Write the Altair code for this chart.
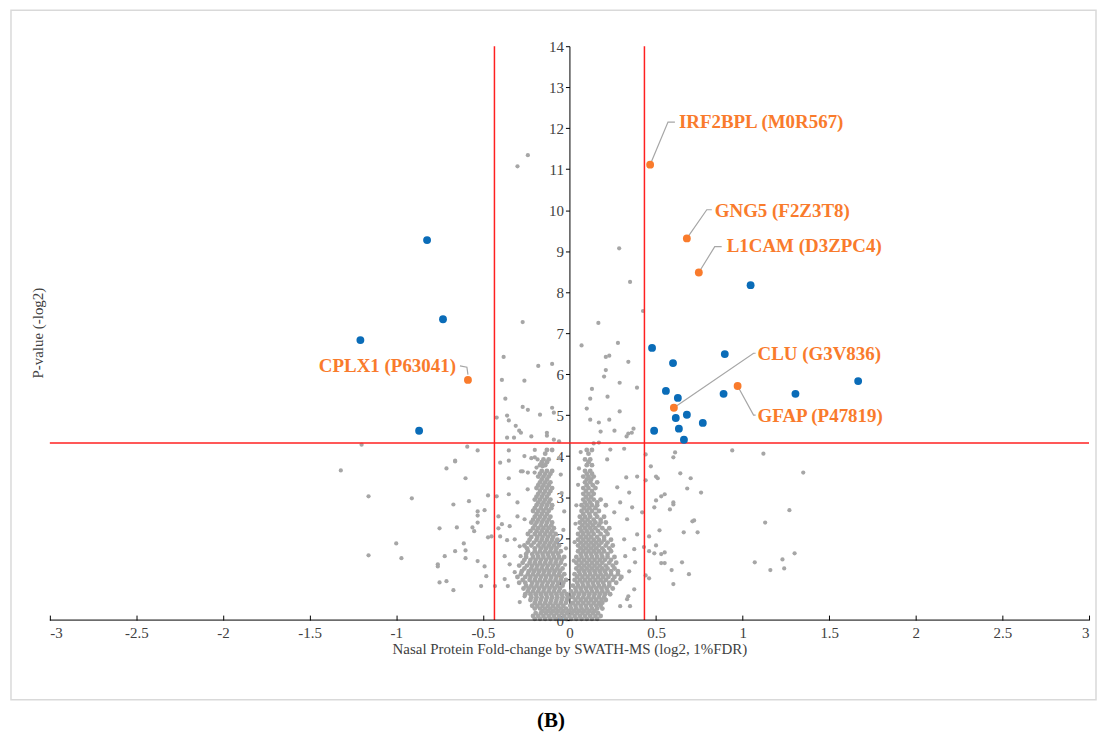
import altair as alt
import pandas as pd

SERIF = "Liberation Serif"

# ---------------- data ----------------
# scattered (non-significant) proteins: (log2 fold-change, -log2 p)
gray_scatter = [
    (-0.30, 11.07), (-0.24, 11.34), (-0.27, 7.27), (0.287, 9.07), (0.35, 8.25), (0.425, 7.54), (0.167, 7.25),
    (-0.38, 6.42), (-0.39, 5.86), (-0.26, 5.84), (-0.18, 6.2), (-0.10, 6.25), (-0.37, 5.4), (-0.27, 5.2),
    (-0.24, 5.13), (-0.42, 4.94), (-0.36, 4.99), (-0.35, 4.87), (-0.17, 5.01), (-0.10, 5.18), (-0.09, 5.06),
    (-0.31, 4.74), (-0.29, 4.62), (-0.28, 4.57), (-0.13, 4.57), (-0.36, 4.45), (-0.32, 4.45), (-0.22, 4.48),
    (-0.13, 4.5), (-0.09, 4.4), (-0.06, 4.36),
    (0.07, 6.7), (0.28, 6.76), (0.21, 6.42), (0.23, 6.45), (0.34, 6.3), (0.21, 6.1), (0.20, 5.94), (0.29, 5.79),
    (0.39, 5.67), (0.13, 5.64), (0.22, 5.45), (0.12, 5.4), (0.10, 5.16), (0.29, 5.09), (0.12, 4.89), (0.23, 4.89),
    (0.17, 4.82), (0.18, 4.6), (0.26, 4.62), (0.37, 4.67), (0.34, 4.55), (0.33, 4.48), (0.36, 4.57), (0.14, 4.31),
    (0.17, 4.33),
    # below threshold, right side
    (0.44, 4.04), (0.61, 4.09), (0.60, 3.97), (0.94, 4.14), (1.12, 4.06), (1.35, 3.6), (0.47, 3.75), (0.64, 3.58),
    (0.70, 3.46), (0.68, 3.21), (0.76, 3.11), (0.44, 3.41), (0.50, 3.5), (0.51, 3.46), (0.50, 2.92), (0.55, 3.07),
    (0.53, 3.02), (0.60, 2.87), (0.60, 2.82), (0.58, 2.7), (0.49, 2.75), (0.42, 2.63), (1.27, 2.68), (1.13, 2.38),
    (0.71, 2.41), (0.72, 2.43), (0.74, 2.14), (0.66, 2.14), (0.52, 2.19), (0.46, 2.04), (0.50, 1.82), (0.43, 1.78),
    (0.55, 1.65), (0.53, 1.61), (0.46, 1.68), (0.49, 1.63), (1.30, 1.63), (1.23, 1.48), (1.07, 1.41), (1.16, 1.22),
    (1.24, 1.26), (0.65, 1.41), (0.69, 1.12), (0.59, 1.22), (0.60, 0.88), (0.53, 1.39), (0.55, 1.39), (0.46, 1.02),
    (0.44, 1.09), (0.35, 0.34), (0.34, 0.58),
    (0.218, 3.92), (0.236, 4.16), (0.316, 4.18), (0.391, 3.5), (0.328, 3.48), (0.276, 3.24), (0.345, 3.11),
    (0.293, 2.87), (0.362, 2.75), (0.259, 2.63), (0.333, 2.46), (0.391, 2.09), (0.316, 1.97), (0.374, 1.73),
    (0.322, 1.56), (0.379, 1.41), (0.345, 1.19), (0.293, 1.0), (0.374, 0.75), (0.333, 0.51), (0.293, 0.34),
    # below threshold, left side
    (-1.32, 3.65), (-1.16, 3.02), (-0.91, 2.97), (-1.16, 1.58), (-1.0, 1.87), (-0.97, 1.51), (-1.2, 4.28),
    (-0.71, 3.7), (-0.66, 3.89), (-0.66, 3.87), (-0.60, 3.46), (-0.58, 2.9), (-0.67, 2.82), (-0.75, 2.24),
    (-0.65, 2.26), (-0.61, 1.87), (-0.66, 1.68), (-0.60, 1.7), (-0.72, 1.56), (-0.60, 1.51), (-0.76, 1.36),
    (-0.76, 1.31), (-0.75, 0.92), (-0.71, 0.95), (-0.67, 0.73), (-0.59, 4.23), (-0.53, 4.14), (-0.53, 1.44),
    (-0.49, 1.31), (-0.48, 1.07), (-0.51, 0.83), (-0.47, 3.04), (-0.49, 2.68), (-0.53, 2.65), (-0.53, 2.55),
    (-0.53, 2.38), (-0.56, 2.26), (-0.55, 2.17), (-0.47, 2.02), (-0.45, 2.04), (-0.42, 3.02), (-0.43, 0.83),
    (-0.40, 3.84), (-0.35, 4.14), (-0.35, 3.89), (-0.35, 3.46), (-0.35, 3.07), (-0.41, 2.53), (-0.39, 2.34),
    (-0.41, 2.24), (-0.40, 2.04), (-0.36, 1.95), (-0.30, 2.87), (-0.30, 2.53), (-0.28, 3.63), (-0.24, 3.6),
    (-0.20, 3.97), (-0.19, 3.72), (-0.15, 3.77),
    (-0.345, 2.29), (-0.287, 1.8), (-0.374, 1.56), (-0.316, 1.17), (-0.259, 0.58), (-0.287, 0.44), (-0.356, 0.83),
    (-0.374, 1.0), (-0.241, 3.19), (-0.27, 3.63), (-0.201, 3.6), (-0.184, 3.92), (-0.155, 3.75), (-0.259, 2.46),
    (-0.316, 1.97), (-0.282, 1.56), (-0.345, 1.36), (-0.26, 4.0), (-0.22, 3.95), (-0.20, 4.15),
    # sparse points inside the V, close to the axis
    (-0.025, 1.35), (-0.02, 1.75), (-0.035, 2.2), (-0.03, 2.65), (-0.045, 3.1), (-0.05, 3.55), (-0.06, 3.95),
    (0.025, 1.45), (0.03, 1.9), (0.035, 2.35), (0.04, 2.8), (0.05, 3.3), (0.055, 3.7), (0.065, 4.1),
]

# dense central cloud, read row by row: (-log2 p, [log2 fold-changes])
cloud_rows = [
    (0.03, [-0.20, -0.17, -0.14, -0.11, -0.08, -0.05, -0.02, 0.01, 0.04, 0.07, 0.10, 0.13, 0.16]),
    (0.10, [-0.21, -0.18, -0.15, -0.12, -0.09, -0.06, -0.03, 0.0, 0.03, 0.06, 0.09, 0.12, 0.15, 0.18]),
    (0.17, [-0.195, -0.165, -0.135, -0.105, -0.075, -0.045, -0.015, 0.015, 0.045, 0.075, 0.105, 0.135, 0.165]),
    (0.22, [-0.155, -0.125, -0.095, -0.065, -0.035, -0.005, 0.025, 0.055, 0.085, 0.115, 0.145]),
    (0.28, [-0.20, -0.17, -0.14, -0.11, -0.08, -0.05, -0.02, 0.01, 0.04, 0.07, 0.10, 0.13, 0.16, 0.19]),
    (0.35, [-0.215, -0.185, -0.155, -0.125, -0.095, -0.065, -0.035, 0.005, 0.035, 0.065, 0.095, 0.125, 0.155, 0.18]),
    (0.42, [-0.20, -0.17, -0.14, -0.11, -0.08, -0.05, -0.02, 0.02, 0.05, 0.08, 0.11, 0.14, 0.17, 0.19]),
    (0.49, [-0.225, -0.195, -0.165, -0.135, -0.105, -0.075, -0.045, -0.015, 0.035, 0.065, 0.095, 0.125, 0.155, 0.185, 0.21]),
    (0.56, [-0.22, -0.19, -0.16, -0.13, -0.10, -0.07, -0.04, -0.01, 0.02, 0.05, 0.08, 0.11, 0.14, 0.17, 0.20]),
    (0.63, [-0.255, -0.225, -0.195, -0.165, -0.135, -0.105, -0.075, -0.045, -0.015, 0.025, 0.055, 0.085, 0.115, 0.145, 0.175, 0.205, 0.235]),
    (0.70, [-0.24, -0.21, -0.18, -0.15, -0.12, -0.09, -0.06, -0.03, 0.01, 0.04, 0.07, 0.10, 0.13, 0.16, 0.19, 0.22]),
    (0.77, [-0.265, -0.235, -0.205, -0.175, -0.145, -0.115, -0.085, -0.055, 0.035, 0.065, 0.095, 0.125, 0.155, 0.185, 0.215, 0.25]),
    (0.84, [-0.25, -0.22, -0.19, -0.16, -0.13, -0.10, -0.07, -0.04, 0.02, 0.05, 0.08, 0.11, 0.14, 0.17, 0.20, 0.23]),
    (0.91, [-0.29, -0.255, -0.215, -0.185, -0.155, -0.125, -0.095, -0.065, -0.035, 0.045, 0.075, 0.105, 0.135, 0.165, 0.195, 0.23, 0.27]),
    (0.98, [-0.27, -0.23, -0.20, -0.17, -0.14, -0.11, -0.08, -0.05, -0.02, 0.03, 0.06, 0.09, 0.12, 0.15, 0.18, 0.21, 0.25]),
    (1.05, [-0.30, -0.255, -0.225, -0.195, -0.165, -0.135, -0.105, -0.075, -0.045, 0.045, 0.075, 0.105, 0.135, 0.165, 0.195, 0.225, 0.26, 0.30]),
    (1.12, [-0.28, -0.24, -0.21, -0.18, -0.15, -0.12, -0.09, -0.06, -0.03, 0.03, 0.06, 0.09, 0.12, 0.15, 0.18, 0.21, 0.24, 0.28]),
    (1.19, [-0.275, -0.235, -0.205, -0.175, -0.145, -0.115, -0.085, -0.055, 0.055, 0.085, 0.115, 0.145, 0.175, 0.205, 0.24, 0.28]),
    (1.26, [-0.26, -0.22, -0.19, -0.16, -0.13, -0.10, -0.07, -0.04, 0.04, 0.07, 0.10, 0.13, 0.16, 0.19, 0.22, 0.26]),
    (1.33, [-0.29, -0.245, -0.215, -0.185, -0.155, -0.125, -0.095, -0.065, 0.055, 0.085, 0.115, 0.145, 0.175, 0.21, 0.25]),
    (1.40, [-0.27, -0.23, -0.20, -0.17, -0.14, -0.11, -0.08, -0.05, 0.04, 0.07, 0.10, 0.13, 0.16, 0.19, 0.23, 0.27]),
    (1.47, [-0.26, -0.225, -0.195, -0.165, -0.135, -0.105, -0.075, -0.045, 0.055, 0.085, 0.115, 0.145, 0.175, 0.205, 0.24]),
    (1.54, [-0.25, -0.21, -0.18, -0.15, -0.12, -0.09, -0.06, -0.03, 0.04, 0.07, 0.10, 0.13, 0.16, 0.19, 0.22, 0.26]),
    (1.61, [-0.25, -0.215, -0.185, -0.155, -0.125, -0.095, -0.065, 0.065, 0.095, 0.125, 0.155, 0.185, 0.22]),
    (1.68, [-0.24, -0.20, -0.17, -0.14, -0.11, -0.08, -0.05, 0.05, 0.08, 0.11, 0.14, 0.17, 0.20, 0.24]),
    (1.75, [-0.245, -0.20, -0.165, -0.135, -0.105, -0.075, 0.065, 0.095, 0.125, 0.155, 0.19, 0.23]),
    (1.82, [-0.26, -0.22, -0.18, -0.15, -0.12, -0.09, -0.06, 0.05, 0.08, 0.11, 0.14, 0.17, 0.21, 0.25]),
    (1.89, [-0.24, -0.205, -0.17, -0.14, -0.11, -0.08, 0.065, 0.095, 0.125, 0.155, 0.185, 0.22]),
    (1.96, [-0.23, -0.19, -0.16, -0.13, -0.10, -0.07, 0.05, 0.08, 0.11, 0.14, 0.17, 0.20, 0.24]),
    (2.03, [-0.22, -0.185, -0.155, -0.125, -0.095, 0.065, 0.095, 0.125, 0.16, 0.20]),
    (2.10, [-0.24, -0.20, -0.17, -0.14, -0.11, -0.08, 0.05, 0.08, 0.11, 0.14, 0.18, 0.22]),
    (2.17, [-0.225, -0.19, -0.16, -0.13, -0.10, 0.07, 0.10, 0.13, 0.165, 0.21]),
    (2.24, [-0.21, -0.18, -0.15, -0.12, -0.09, 0.06, 0.09, 0.12, 0.15, 0.19, 0.23]),
    (2.31, [-0.20, -0.165, -0.135, -0.105, 0.075, 0.105, 0.135, 0.17]),
    (2.38, [-0.22, -0.19, -0.16, -0.13, -0.10, 0.06, 0.09, 0.12, 0.15, 0.18, 0.21]),
    (2.45, [-0.21, -0.18, -0.15, -0.12, 0.075, 0.105, 0.14, 0.18]),
    (2.52, [-0.20, -0.17, -0.14, -0.11, 0.06, 0.09, 0.12, 0.16, 0.20]),
    (2.59, [-0.19, -0.16, -0.13, 0.08, 0.115, 0.15]),
    (2.66, [-0.21, -0.18, -0.15, -0.12, 0.07, 0.10, 0.13, 0.17]),
    (2.73, [-0.20, -0.165, -0.135, -0.105, 0.085, 0.115, 0.15]),
    (2.80, [-0.19, -0.16, -0.13, -0.10, 0.07, 0.10, 0.13, 0.16, 0.21]),
    (2.87, [-0.18, -0.15, -0.12, 0.09, 0.12, 0.16]),
    (2.94, [-0.20, -0.17, -0.14, -0.11, 0.08, 0.11, 0.14, 0.18]),
    (3.01, [-0.19, -0.16, -0.13, 0.095, 0.125]),
    (3.08, [-0.18, -0.15, -0.12, 0.08, 0.11, 0.14]),
    (3.15, [-0.17, -0.14, -0.11, 0.095, 0.13]),
    (3.22, [-0.19, -0.16, -0.13, -0.10, 0.08, 0.11, 0.15]),
    (3.29, [-0.18, -0.15, -0.12, 0.10, 0.135]),
    (3.36, [-0.17, -0.14, -0.11, 0.09, 0.12, 0.16]),
    (3.43, [-0.16, -0.13, 0.10, 0.125]),
    (3.50, [-0.18, -0.15, -0.12, 0.08, 0.11, 0.14]),
    (3.57, [-0.17, -0.14, -0.11, 0.10, 0.13]),
    (3.64, [-0.16, -0.13, -0.10, 0.09, 0.12]),
    (3.78, [-0.17, -0.14, 0.10, 0.13]),
    (3.85, [-0.16, -0.13, 0.11]),
    (3.92, [-0.15, -0.12, 0.09, 0.12]),
    (4.06, [-0.14, 0.11]),
    (4.15, [-0.13, -0.10, 0.10, 0.13]),
]

# significant proteins (blue)
blue_x = [-0.822, -0.730, -1.207, -0.868, 1.046, 0.477, 0.897, 0.598, 1.667, 0.557,
          0.626, 0.890, 1.305, 0.614, 0.678, 0.770, 0.632, 0.489, 0.661]
blue_y = [9.27, 7.34, 6.83, 4.62, 8.17, 6.64, 6.49, 6.27, 5.83, 5.59,
          5.42, 5.52, 5.52, 4.93, 5.01, 4.81, 4.67, 4.62, 4.40]

# highlighted proteins (orange) and their labels
names = ["IRF2BPL (M0R567)", "GNG5 (F2Z3T8)", "L1CAM (D3ZPC4)",
         "CPLX1 (P63041)", "CLU (G3V836)", "GFAP (P47819)"]
orange_x = [0.466, 0.678, 0.747, -0.586, 0.603, 0.971]
orange_y = [11.11, 9.31, 8.48, 5.86, 5.18, 5.71]
label_x = [0.632, 0.839, 0.908, -0.655, 1.086, 1.086]
label_y = [12.15, 9.99, 9.12, 6.20, 6.49, 4.98]
label_align = ["left", "left", "left", "right", "left", "left"]
lead_start_x = [0.466, 0.678, 0.747, -0.586, 0.603, 0.971]
lead_start_y = [11.11, 9.31, 8.48, 5.99, 5.18, 5.71]
elbow_x = [0.569, 0.793, 0.839, -0.592, 1.063, 1.063]
elbow_y = [12.15, 10.01, 9.11, 6.17, 6.51, 5.00]
lead_end_x = [0.609, 0.822, 0.879, -0.632, 1.075, 1.075]
lead_end_y = [12.15, 10.01, 9.11, 6.20, 6.51, 5.00]

fc_cut = 0.433   # log2 fold-change threshold
p_cut = 4.32     # -log2(0.05)
x_ticks = [-3, -2.5, -2, -1.5, -1, -0.5, 0, 0.5, 1, 1.5, 2, 2.5, 3]
y_ticks = list(range(0, 15))

# ---------------- tables ----------------
scatter_df = pd.DataFrame({"fc": [p[0] for p in gray_scatter], "p": [p[1] for p in gray_scatter]})
cx, cy = [], []
for yy, xs in cloud_rows:
    for xx in xs:
        cx.append(xx)
        cy.append(yy)
cloud_df = pd.DataFrame({"fc": cx, "p": cy})
blue_df = pd.DataFrame({"fc": blue_x, "p": blue_y})
orange_df = pd.DataFrame({"fc": orange_x, "p": orange_y, "name": names})
lab_df = pd.DataFrame({"fc": label_x, "p": label_y, "name": names, "al": label_align})
lead_rows = []
for i, n in enumerate(names):
    lead_rows.append({"name": n, "o": 0, "fc": lead_start_x[i], "p": lead_start_y[i]})
    lead_rows.append({"name": n, "o": 1, "fc": elbow_x[i], "p": elbow_y[i]})
    lead_rows.append({"name": n, "o": 2, "fc": lead_end_x[i], "p": lead_end_y[i]})
lead_df = pd.DataFrame(lead_rows)

W, H = 1043, 576
xscale = alt.Scale(domain=[-3, 3], nice=False, zero=False)
yscale = alt.Scale(domain=[0, 14], nice=False, zero=False)

x_axis = alt.Axis(values=x_ticks, labelExpr="'' + datum.value", domain=False, ticks=True,
                  tickSize=5, offset=-5, tickColor="black", tickWidth=1, grid=False,
                  labelFont=SERIF, labelFontSize=15, labelColor="#404040", labelPadding=5,
                  title="Nasal Protein Fold-change by SWATH-MS (log2, 1%FDR)",
                  titleFont=SERIF, titleFontSize=15, titleFontWeight="normal",
                  titleColor="#404040", titlePadding=2)
y_axis = alt.Axis(values=y_ticks, offset=-(W / 2), domainColor="black", domainWidth=1,
                  tickColor="black", tickSize=4, grid=False, labelFont=SERIF,
                  labelFontSize=15, labelColor="#404040", labelPadding=2, title=None)

X = alt.X("fc:Q", scale=xscale, axis=x_axis)
Y = alt.Y("p:Q", scale=yscale, axis=y_axis)

frame = alt.Chart(pd.DataFrame({"a": [0]})).mark_rect(
    fillOpacity=0, stroke="#D9D9D9", strokeWidth=1.5
).encode(x=alt.value(-39), x2=alt.value(1050), y=alt.value(-36), y2=alt.value(656))

gray = alt.Chart(scatter_df).mark_circle(size=18, color="#A6A6A6", opacity=1).encode(x=X, y=Y)
cloud = alt.Chart(cloud_df).mark_circle(size=24, color="#A6A6A6", opacity=1).encode(
    x=alt.X("fc:Q", scale=xscale), y=alt.Y("p:Q", scale=yscale))

vlines = alt.Chart(pd.DataFrame({"fc": [-fc_cut, fc_cut]})).mark_rule(
    color="#FF2020", strokeWidth=1.5
).encode(x=alt.X("fc:Q", scale=xscale), y=alt.datum(0), y2=alt.datum(14))
hline = alt.Chart(pd.DataFrame({"p": [p_cut]})).mark_rule(
    color="#FF2020", strokeWidth=1.5
).encode(y=alt.Y("p:Q", scale=yscale), x=alt.datum(-3), x2=alt.datum(3))

axis_x_line = alt.Chart(pd.DataFrame({"p": [0]})).mark_rule(color="black", strokeWidth=1).encode(
    y=alt.Y("p:Q", scale=yscale), x=alt.datum(-3), x2=alt.datum(3))

leads = alt.Chart(lead_df).mark_line(color="#A6A6A6", strokeWidth=1.2).encode(
    x=alt.X("fc:Q", scale=xscale), y=alt.Y("p:Q", scale=yscale), detail="name:N", order="o:Q")

blue = alt.Chart(blue_df).mark_circle(size=62, color="#0A6CB8", opacity=1).encode(
    x=alt.X("fc:Q", scale=xscale), y=alt.Y("p:Q", scale=yscale))
orange = alt.Chart(orange_df).mark_circle(size=62, color="#F97B2C", opacity=1).encode(
    x=alt.X("fc:Q", scale=xscale), y=alt.Y("p:Q", scale=yscale))

lab_left = alt.Chart(lab_df[lab_df["al"] == "left"]).mark_text(
    align="left", baseline="middle", font=SERIF, fontSize=19, fontWeight="bold", color="#F97B2C"
).encode(x=alt.X("fc:Q", scale=xscale), y=alt.Y("p:Q", scale=yscale), text="name:N")
lab_right = alt.Chart(lab_df[lab_df["al"] == "right"]).mark_text(
    align="right", baseline="middle", font=SERIF, fontSize=19, fontWeight="bold", color="#F97B2C"
).encode(x=alt.X("fc:Q", scale=xscale), y=alt.Y("p:Q", scale=yscale), text="name:N")

ytitle = alt.Chart(pd.DataFrame({"t": ["P-value (-log2)"]})).mark_text(
    angle=270, font=SERIF, fontSize=15, color="#404040", baseline="middle"
).encode(x=alt.value(-12), y=alt.value(288), text="t:N")

panel = alt.Chart(pd.DataFrame({"t": ["(B)"]})).mark_text(
    font=SERIF, fontSize=21, fontWeight="bold", color="black", baseline="middle"
).encode(x=alt.value(503), y=alt.value(677), text="t:N")

chart = alt.layer(
    frame, gray, cloud, vlines, hline, axis_x_line, leads, blue, orange,
    lab_left, lab_right, ytitle, panel
).properties(
    width=W, height=H,
    autosize=alt.AutoSizeParams(type="none"),
    padding={"left": 42, "top": 37, "right": 8, "bottom": 116},
).configure_view(stroke=None)

chart.save("out.html", embed_options={"renderer": "svg", "actions": False})
